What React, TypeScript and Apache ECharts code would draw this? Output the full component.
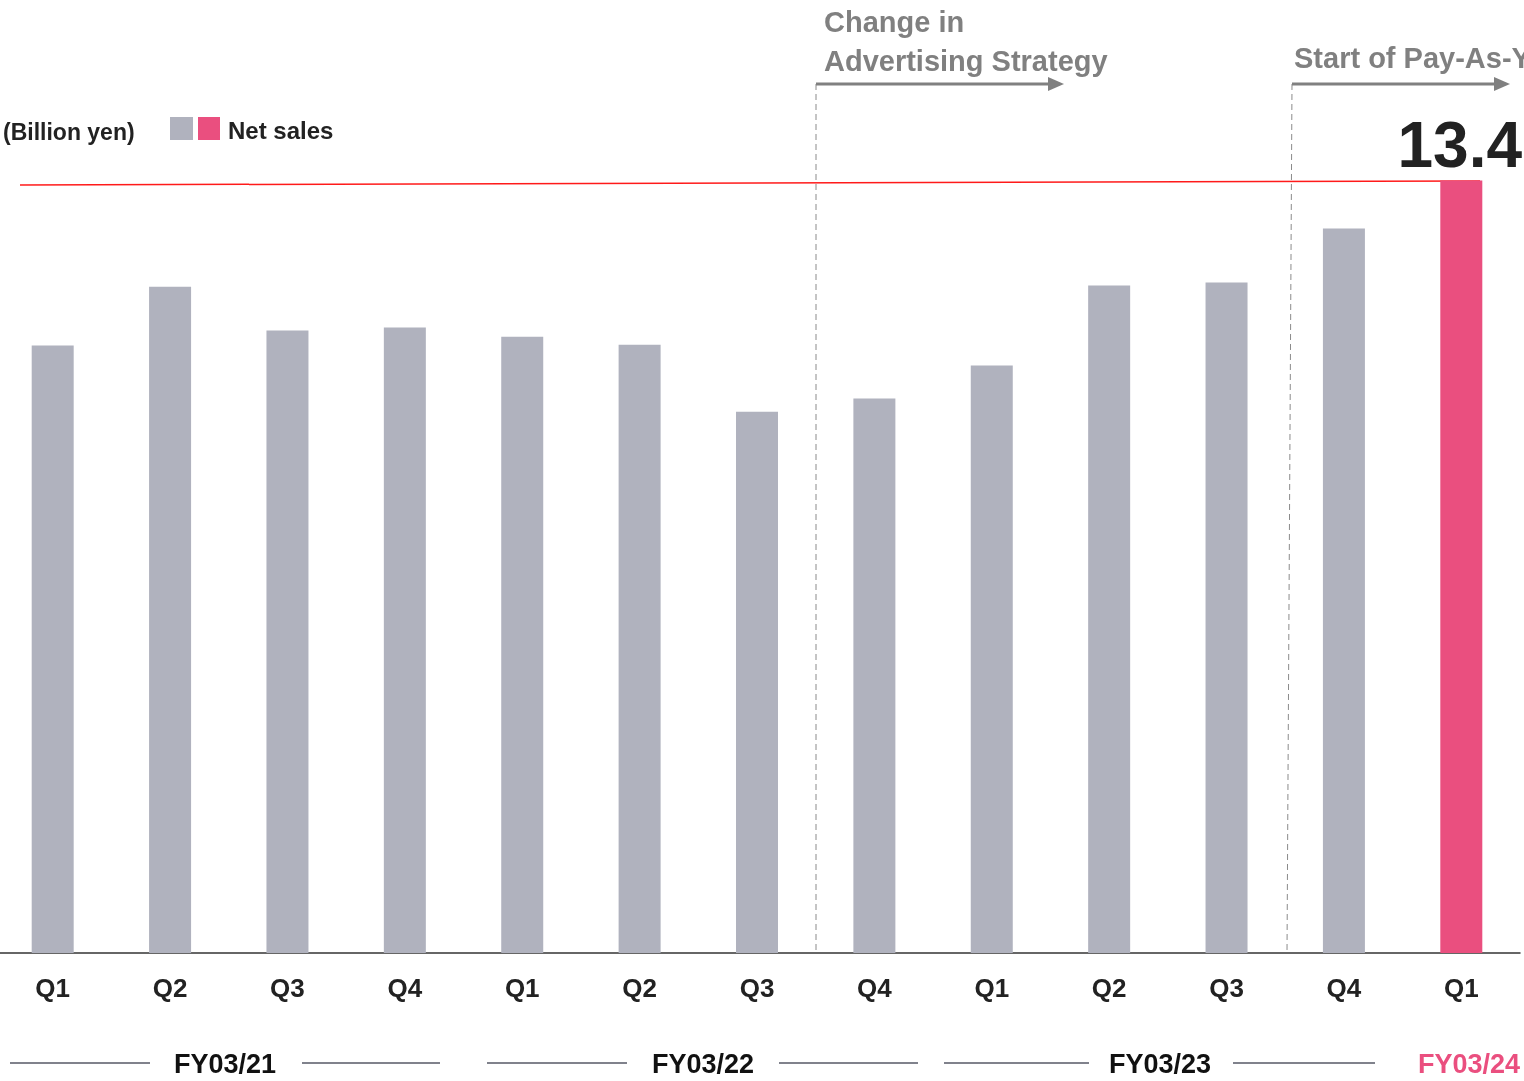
import React, { useEffect, useRef } from "react";
import * as echarts from "echarts";

const quarters = ["Q1", "Q2", "Q3", "Q4", "Q1", "Q2", "Q3", "Q4", "Q1", "Q2", "Q3", "Q4", "Q1"];
const netSales = [10.54, 11.56, 10.8, 10.85, 10.69, 10.55, 9.39, 9.62, 10.19, 11.58, 11.63, 12.57, 13.4];
const fiscalYears = ["FY03/21", "FY03/22", "FY03/23", "FY03/24"];
const highlightIndex = 12;
const latestLabel = "13.4";

const GRAY = "#B0B2BE";
const PINK = "#EA4F7F";
const FONT = "'Liberation Sans', Arial, sans-serif";
const SHIFT = 6;

export default function App() {
  const ref = useRef<HTMLDivElement>(null);
  useEffect(() => {
    const chart = echarts.init(ref.current!, null, { renderer: "svg" });
    const fyLine = (x1: number, x2: number) => ({
      type: "line",
      shape: { x1, y1: 1063, x2, y2: 1063 },
      style: { stroke: "#80828C", lineWidth: 2 },
    });
    const fyText = (text: string, x: number, color: string, align: string) => ({
      type: "text",
      x,
      y: 1064,
      style: { text, fill: color, font: `bold 27px ${FONT}`, align, verticalAlign: "middle" },
    });
    chart.setOption({
      animation: false,
      grid: { left: 0, right: 4, top: 146, bottom: 128, containLabel: false },
      xAxis: {
        type: "category",
        data: quarters,
        axisLine: { lineStyle: { color: "#333", width: 1.5 } },
        axisTick: { show: false },
        axisLabel: { color: "#222", fontSize: 26, fontWeight: "bold", fontFamily: FONT, margin: 22 },
      },
      yAxis: { type: "value", min: 0, max: 14, show: false, splitLine: { show: false } },
      series: [
        {
          type: "bar",
          barWidth: 42,
          data: netSales.map((v, i) => ({
            value: v,
            itemStyle: { color: i === highlightIndex ? PINK : GRAY },
          })),
        },
      ],
      graphic: [
        {
          type: "group",
          x: SHIFT,
          y: 0,
          children: [
            { type: "text", x: 3, y: 132, style: { text: "(Billion yen)", fill: "#222", font: `bold 23px ${FONT}`, verticalAlign: "middle" } },
            { type: "rect", shape: { x: 170, y: 117, width: 23, height: 23 }, style: { fill: GRAY } },
            { type: "rect", shape: { x: 198, y: 117, width: 22, height: 23 }, style: { fill: PINK } },
            { type: "text", x: 228, y: 130, style: { text: "Net sales", fill: "#222", font: `bold 24px ${FONT}`, verticalAlign: "middle" } },
            { type: "line", shape: { x1: 20, y1: 185, x2: 1480, y2: 181 }, style: { stroke: "#FF1A1A", lineWidth: 1.5 } },
            { type: "line", shape: { x1: 816, y1: 84, x2: 816, y2: 953 }, style: { stroke: "#8A8A8A", lineWidth: 1, lineDash: [6, 4] } },
            { type: "line", shape: { x1: 1292, y1: 84, x2: 1287, y2: 953 }, style: { stroke: "#8A8A8A", lineWidth: 1, lineDash: [6, 4] } },
            { type: "line", shape: { x1: 816, y1: 84, x2: 1050, y2: 84 }, style: { stroke: "#808080", lineWidth: 3 } },
            { type: "polygon", shape: { points: [[1048, 77], [1064, 84], [1048, 91]] }, style: { fill: "#808080" } },
            { type: "line", shape: { x1: 1292, y1: 84, x2: 1496, y2: 84 }, style: { stroke: "#808080", lineWidth: 3 } },
            { type: "polygon", shape: { points: [[1494, 77], [1510, 84], [1494, 91]] }, style: { fill: "#808080" } },
            { type: "text", x: 824, y: 22, style: { text: "Change in", fill: "#808080", font: `bold 29px ${FONT}`, verticalAlign: "middle" } },
            { type: "text", x: 824, y: 61, style: { text: "Advertising Strategy", fill: "#808080", font: `bold 29px ${FONT}`, verticalAlign: "middle" } },
            { type: "text", x: 1294, y: 58, style: { text: "Start of Pay-As-You-Go", fill: "#808080", font: `bold 29px ${FONT}`, verticalAlign: "middle" } },
            { type: "text", x: 1522, y: 145, style: { text: latestLabel, fill: "#222", font: `bold 64px ${FONT}`, align: "right", verticalAlign: "middle" } },
            fyLine(10, 150), fyLine(302, 440), fyText(fiscalYears[0], 225, "#111", "center"),
            fyLine(487, 627), fyLine(779, 918), fyText(fiscalYears[1], 703, "#111", "center"),
            fyLine(944, 1089), fyLine(1233, 1375), fyText(fiscalYears[2], 1160, "#111", "center"),
            fyText(fiscalYears[3], 1520, PINK, "right"),
          ],
        },
      ],
    });
    return () => chart.dispose();
  }, []);
  return <div ref={ref} style={{ position: "fixed", left: -SHIFT, top: 0, width: 1524 + SHIFT, height: 1081 }} />;
}
